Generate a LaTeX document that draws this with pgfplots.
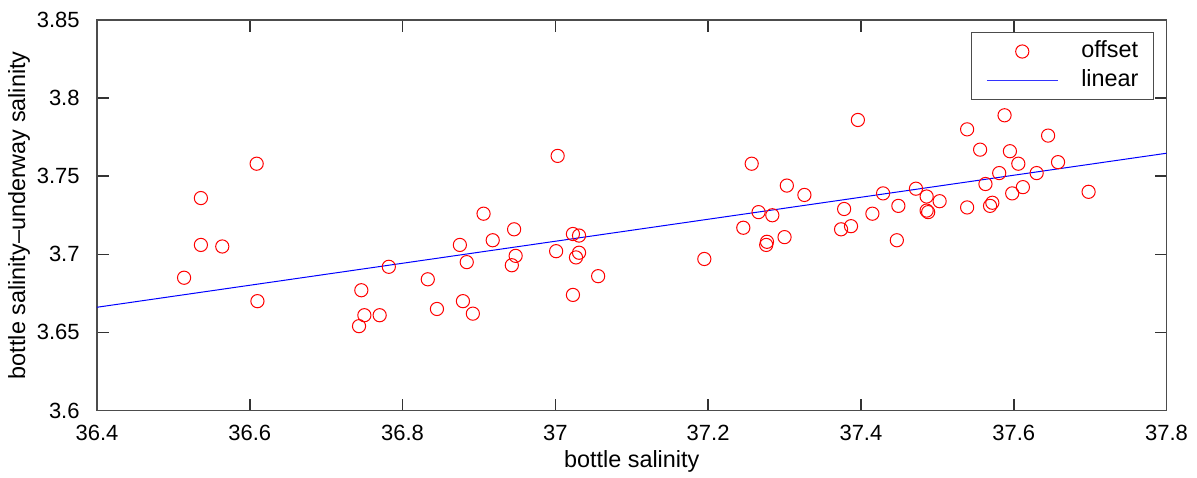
\documentclass[border=0pt]{standalone}
\usepackage{pgfplots}
\pgfplotsset{compat=1.18}
\usepackage{pgfplotstable}
\usepackage{fontspec}
\setmainfont{Liberation Sans}

% bottle salinity vs. offset (bottle - underway)
\pgfplotstableread{
x y
36.514 3.685
36.536 3.736
36.536 3.706
36.564 3.705
36.609 3.758
36.610 3.670
36.746 3.677
36.743 3.654
36.750 3.661
36.770 3.661
36.782 3.692
36.833 3.684
36.845 3.665
36.875 3.706
36.884 3.695
36.879 3.670
36.892 3.662
36.906 3.726
36.918 3.709
36.946 3.716
36.948 3.699
36.943 3.693
37.003 3.763
37.001 3.702
37.023 3.713
37.031 3.712
37.031 3.701
37.027 3.698
37.023 3.674
37.056 3.686
37.195 3.697
37.257 3.758
37.303 3.744
37.326 3.738
37.266 3.727
37.284 3.725
37.246 3.717
37.277 3.708
37.276 3.706
37.300 3.711
37.396 3.786
37.378 3.729
37.374 3.716
37.387 3.718
37.415 3.726
37.429 3.739
37.449 3.731
37.447 3.709
37.472 3.742
37.486 3.737
37.486 3.728
37.488 3.727
37.503 3.734
37.539 3.730
37.539 3.780
37.556 3.767
37.563 3.745
37.572 3.733
37.569 3.731
37.588 3.789
37.595 3.766
37.581 3.752
37.606 3.758
37.598 3.739
37.612 3.743
37.630 3.752
37.645 3.776
37.658 3.759
37.698 3.740
}\offsettable

% least-squares fit evaluated at the axis ends
\pgfplotstableread{
x y
36.4 3.6661
37.8 3.7647
}\fittable

\begin{document}
\begin{tikzpicture}
\begin{axis}[
  name=ax,
  scale only axis,
  width=534.75pt, height=195.25pt,
  xmin=36.4, xmax=37.8, ymin=3.6, ymax=3.85,
  xtick={36.4,36.6,36.8,37,37.2,37.4,37.6,37.8},
  ytick={3.6,3.65,3.7,3.75,3.8,3.85},
  xtick pos=both, ytick pos=both,
  tick align=inside,
  major tick length=6pt,
  every outer x axis line/.append style={black!70, line width=0.6pt},
  every outer y axis line/.append style={black!70, line width=0.6pt},
  tick style={black!80, line width=0.8pt},
  /pgf/number format/assume math mode=true,
  ticklabel style={font=\fontsize{11}{13}\selectfont},
  xticklabel style={anchor=base, inner sep=0pt, yshift=-14.75pt},
  yticklabel style={anchor=east, inner sep=0pt, xshift=-8.5pt},
  xlabel={bottle salinity},
  ylabel={bottle salinity--underway salinity},
  every axis x label/.style={at={(rel axis cs:0.5,0)}, anchor=center,
    yshift=-25.5pt, font=\fontsize{11.7}{14}\selectfont},
  every axis y label/.style={at={(rel axis cs:0,0.5)}, anchor=center,
    rotate=90, yshift=39pt, font=\fontsize{11.7}{14}\selectfont},
  legend style={at={(1,1)}, anchor=north east, xshift=-6.25pt, yshift=-6pt,
    draw=black!70, line width=0.5pt, font=\fontsize{11.7}{14}\selectfont,
    nodes={inner sep=0pt, text height=8pt, text depth=2.5pt},
    row sep=4pt, column sep=0pt, inner xsep=7.5pt, inner ysep=4.25pt},
  legend cell align=left,
]
\addplot[only marks, mark=o, mark size=3.3pt, red, line width=0.5pt,
  legend image code/.code={\draw[red, line width=0.5pt] (17.75pt,0pt) circle[radius=3.3pt];\path (0pt,0pt) (47pt,0pt);}]
  table[x=x, y=y] {\offsettable};
\addlegendentry{offset}
\addplot[blue, line width=0.5pt,
  legend image code/.code={\draw[blue!80, line width=0.6pt] (0pt,0pt) -- (35.5pt,0pt);\path (47pt,0pt);}]
  table[x=x, y=y] {\fittable};
\addlegendentry{linear}
\end{axis}
\pgfresetboundingbox
\path[use as bounding box] ([shift={(-48.5pt,-33.25pt)}]ax.south west) rectangle ([shift={(15.25pt,10pt)}]ax.north east);
\end{tikzpicture}
\end{document}
